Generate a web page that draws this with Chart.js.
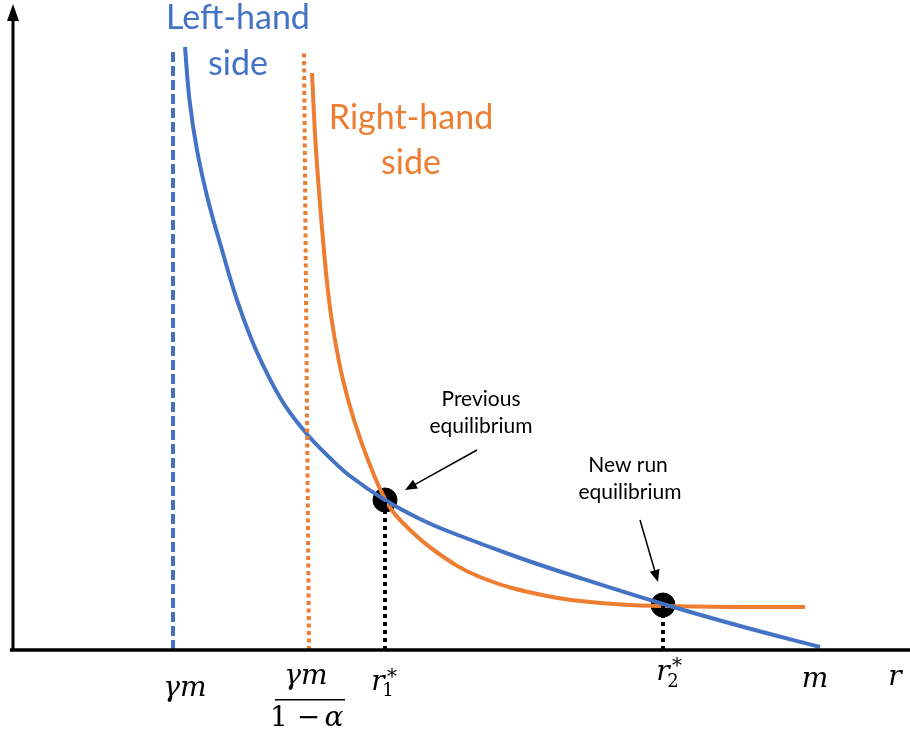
<!DOCTYPE html>
<html>
<head>
    <title>Equilibrium diagram</title>
    <script src="https://cdn.jsdelivr.net/npm/chart.js"></script>
    <style>
        html, body { margin: 0; padding: 0; background: #fff; overflow: hidden; }
        #wrap { width: 910px; height: 738px; }
        canvas { display: block; }
    </style>
</head>
<body>
    <div id="wrap"><canvas id="eqChart"></canvas></div>
    <script>
        // Left-hand side curve (blue)
        var lhsX = [185, 189.5, 197, 208, 222, 237, 256, 281.5, 306, 330, 350, 385, 420, 450, 520, 580, 663, 740, 820];
        var lhsY = [603, 550, 500, 450, 400, 350, 300, 250, 217, 192, 174, 150, 131, 118, 92, 72, 46, 24, 3];
        // Right-hand side curve (orange)
        var rhsX = [312, 316, 323, 329, 335, 343, 354, 368, 385, 400, 435, 480, 547, 613, 663, 740, 805];
        var rhsY = [577, 500, 410, 350, 310, 270, 230, 190, 151, 130, 99, 73, 54, 46, 44, 43, 43];
        // Asymptotes: gamma*m and gamma*m/(1-alpha)
        var lhsAsymX = [173, 173];
        var lhsAsymY = [0, 600];
        var rhsAsymX = [309, 304];
        var rhsAsymY = [0, 597];
        // Equilibria r1*, r2*
        var eqX = [385, 663];
        var eqY = [150, 45];
        // Axes
        var axisMaxX = 910;
        var axisMaxY = 638;

        function pts(xs, ys) {
            return xs.map(function (x, i) { return { x: x, y: ys[i] }; });
        }

        var blue = '#4472C4';
        var orange = '#ED7D31';

        var labelPlugin = {
            id: 'labels',
            afterDatasetsDraw: function (chart) {
                var c = chart.ctx;
                var xs = chart.scales.x, ys = chart.scales.y;
                var px = function (v) { return xs.getPixelForValue(v); };
                var py = function (v) { return ys.getPixelForValue(v); };
                c.save();

                // y axis arrowhead
                c.fillStyle = '#000';
                c.beginPath();
                c.moveTo(px(13), py(axisMaxY) - 8);
                c.lineTo(px(13) - 6, py(axisMaxY) + 9);
                c.lineTo(px(13) + 6, py(axisMaxY) + 9);
                c.closePath();
                c.fill();

                // annotation arrows
                function arrow(x1, y1, x2, y2) {
                    var a = Math.atan2(py(y2) - py(y1), px(x2) - px(x1));
                    c.strokeStyle = '#000';
                    c.lineWidth = 1.5;
                    c.beginPath();
                    c.moveTo(px(x1), py(y1));
                    c.lineTo(px(x2) - 8 * Math.cos(a), py(y2) - 8 * Math.sin(a));
                    c.stroke();
                    c.beginPath();
                    c.moveTo(px(x2), py(y2));
                    c.lineTo(px(x2) - 12 * Math.cos(a) + 5 * Math.sin(a), py(y2) - 12 * Math.sin(a) - 5 * Math.cos(a));
                    c.lineTo(px(x2) - 12 * Math.cos(a) - 5 * Math.sin(a), py(y2) - 12 * Math.sin(a) + 5 * Math.cos(a));
                    c.closePath();
                    c.fill();
                }
                arrow(477, 200, 405, 160);
                arrow(640, 130, 658, 68);

                c.textAlign = 'center';
                c.textBaseline = 'middle';
                c.font = '34px Lato';
                c.fillStyle = blue;
                c.fillText('Left-hand', 238, 18);
                c.fillText('side', 238, 64);
                c.fillStyle = orange;
                c.fillText('Right-hand', 411, 118);
                c.fillText('side', 411, 163);

                c.fillStyle = '#000';
                c.font = '21px Lato';
                c.fillText('Previous', 481, 399);
                c.fillText('equilibrium', 481, 426);
                c.fillText('New run', 628, 465);
                c.fillText('equilibrium', 630, 492);

                // math tick labels
                c.font = 'italic 28px "DejaVu Serif"';
                c.fillText('\u03B3m', 185, 689);
                c.fillText('\u03B3m', 306, 677);
                c.font = '28px "DejaVu Serif"';
                c.fillText('1 \u2212', 295, 719);
                c.font = 'italic 28px "DejaVu Serif"';
                c.fillText('\u03B1', 334, 719);
                c.fillRect(275, 699, 70, 1.5);
                c.fillText('r', 378, 683);
                c.fillText('r', 663, 673);
                c.fillText('m', 815, 680);
                c.fillText('r', 895, 678);
                c.font = '18px "DejaVu Serif"';
                c.fillText('1', 388, 691);
                c.fillText('2', 673, 682);
                c.font = '20px "DejaVu Serif"';
                c.fillText('*', 392, 678);
                c.fillText('*', 677, 667);

                c.restore();
            }
        };

        new Chart(document.getElementById('eqChart').getContext('2d'), {
            type: 'scatter',
            data: {
                datasets: [
                    { data: pts([13, 13], [0, axisMaxY]), showLine: true, borderColor: '#000', borderWidth: 3, pointRadius: 0 },
                    { data: pts([10, axisMaxX], [0, 0]), showLine: true, borderColor: '#000', borderWidth: 3.5, pointRadius: 0 },
                    { data: pts(lhsAsymX, lhsAsymY), showLine: true, borderColor: blue, borderWidth: 4, borderDash: [10, 4], pointRadius: 0 },
                    { data: pts(rhsAsymX, rhsAsymY), showLine: true, borderColor: orange, borderWidth: 4, borderDash: [4, 3.5], pointRadius: 0 },
                    { data: pts([eqX[0], eqX[0]], [0, eqY[0]]), showLine: true, borderColor: '#000', borderWidth: 4, borderDash: [4, 4], pointRadius: 0 },
                    { data: pts([eqX[1], eqX[1]], [0, eqY[1]]), showLine: true, borderColor: '#000', borderWidth: 4, borderDash: [4, 4], pointRadius: 0 },
                    { data: pts(lhsX, lhsY), showLine: true, borderColor: blue, borderWidth: 4, pointRadius: 0, tension: 0.4 },
                    { data: pts(rhsX, rhsY), showLine: true, borderColor: orange, borderWidth: 4, pointRadius: 0, tension: 0.4 },
                    { data: pts(eqX, eqY), showLine: false, backgroundColor: '#000', borderColor: '#000', pointRadius: 12, pointHoverRadius: 12 }
                ]
            },
            options: {
                responsive: true,
                maintainAspectRatio: false,
                animation: false,
                clip: false,
                layout: { autoPadding: false, padding: { left: 12, right: 0, top: 0, bottom: 88 } },
                plugins: { legend: { display: false }, tooltip: { enabled: false } },
                scales: {
                    x: { type: 'linear', min: 12, max: 910, display: false },
                    y: { type: 'linear', min: 0, max: 650, display: false }
                }
            },
            plugins: [labelPlugin]
        });
    </script>
</body>
</html>
